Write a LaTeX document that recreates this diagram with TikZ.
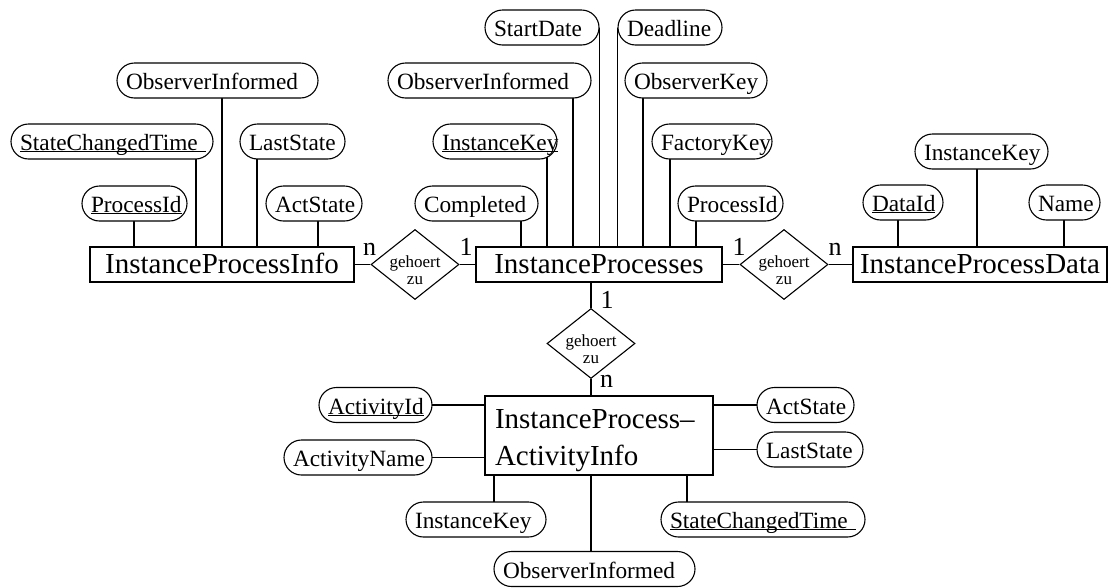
\documentclass[tikz,border=0pt]{standalone}
\usepackage{fontspec}
\setmainfont{Liberation Serif}
\usetikzlibrary{shapes.geometric,backgrounds}
\hyphenpenalty=10000
\exhyphenpenalty=10000

% font sizes
\newcommand\attrfont{\fontsize{23.3}{28}\selectfont}
\newcommand\entfont{\fontsize{29}{37}\selectfont}
\newcommand\relfont{\fontsize{17}{17}\selectfont}
\newcommand\cardfont{\fontsize{26}{30}\selectfont}

% key attribute: underline sitting just below the baseline
\newcommand\keyattr[1]{\leavevmode\setbox0\hbox{#1}\rlap{\rule[-1.8pt]{\wd0}{1.1pt}}\box0}

% two-line relationship label, kept out of the diamond's size
\newcommand\reltext[1]{\raisebox{-12pt}[0pt][0pt]{\begin{tabular}{@{}c@{}}#1\end{tabular}}}

% vertical connector from an attribute (offset dx from its centre) to an entity
\newcommand\attrdown[3]{\path (#1.center) ++(#2,0) coordinate (attrtmp);
  \draw (attrtmp) -- (attrtmp |- #3.north);}
\newcommand\attrup[3]{\path (#1.center) ++(#2,0) coordinate (attrtmp);
  \draw (attrtmp) -- (attrtmp |- #3.south);}

\tikzset{
  every path/.style={line width=1.1pt},
  attr/.style={draw, fill=white, rounded corners=17.5pt, minimum height=35pt,
    inner xsep=9pt, inner ysep=0pt, text height=18pt, text depth=0pt,
    font=\attrfont, text width=#1, align=left},
  entity/.style={draw, fill=white, rectangle, minimum height=35pt,
    minimum width=#1, inner sep=0pt, text height=17pt, text depth=0pt,
    font=\entfont},
  rel/.style={draw, fill=white, diamond, shape aspect=1.257,
    minimum width=88pt, minimum height=70pt, inner sep=0pt, font=\relfont},
  card/.style={inner sep=0pt, font=\cardfont},
}

\begin{document}
\begin{tikzpicture}[x=1pt, y=-1pt]
\useasboundingbox (0,0) rectangle (1112,587);

% ---------- entities ----------
\node[entity=264pt] (E1) at (222,264.5) {InstanceProcessInfo};
\node[entity=246pt] (E2) at (599,264.5) {InstanceProcesses};
\node[entity=254pt] (E3) at (980,264.5) {InstanceProcessData};
\node[draw, fill=white, rectangle, minimum width=228pt, minimum height=79pt,
      inner xsep=10pt, inner ysep=0pt, text width=208pt, align=left,
      text height=20pt, text depth=35pt, font=\entfont]
  (E4) at (599,435.5) {InstanceProcess–\\ActivityInfo};

% ---------- relationships ----------
\node[rel] (R1) at (415,264.5) {\reltext{gehoert\\zu}};
\node[rel] (R2) at (784,264.5) {\reltext{gehoert\\zu}};
\node[rel] (R3) at (591,343.5) {\reltext{gehoert\\zu}};

% ---------- cardinalities ----------
\node[card] (k1) at (369.5,249.5) {n};
\node[card] (k2) at (466,246.5) {1};
\node[card] (k3) at (739,246.5) {1};
\node[card] (k4) at (835,249.5) {n};
\node[card] (k5) at (607,299.5) {1};
\node[card] (k6) at (606.5,381) {n};

% ---------- attributes of InstanceProcessInfo ----------
\node[attr=183pt] (lOI)  at (217.5,80.5)  {ObserverInformed};
\node[attr=184pt] (lSCT) at (112,141.5)   {\keyattr{StateChangedTime\ }};
\node[attr=87pt]  (lLS)  at (292.5,141.5) {LastState};
\node[attr=87pt]  (lPI)  at (134.5,203.5) {\keyattr{ProcessId}};
\node[attr=78pt]  (lAS)  at (314,203.5)   {ActState};

% ---------- attributes of InstanceProcesses ----------
\node[attr=96pt]  (mSD) at (542,27.5)    {StartDate};
\node[attr=86pt]  (mDL) at (670,27.5)    {Deadline};
\node[attr=185pt] (mOI) at (489.5,80.5)  {ObserverInformed};
\node[attr=124pt] (mOK) at (696,80.5)    {ObserverKey};
\node[attr=106pt] (mIK) at (495,141.5)   {\keyattr{InstanceKey}};
\node[attr=102pt] (mFK) at (712,141.5)   {FactoryKey};
\node[attr=105pt] (mCO) at (476.5,203.5) {Completed};
\node[attr=87pt]  (mPI) at (730.5,203.5) {ProcessId};

% ---------- attributes of InstanceProcessData ----------
\node[attr=115pt] (rIK) at (981.5,151.5)  {InstanceKey};
\node[attr=62pt]  (rDI) at (903,202.5)    {\keyattr{DataId}};
\node[attr=53pt]  (rNA) at (1064.5,202.5) {Name};

% ---------- attributes of InstanceProcess-ActivityInfo ----------
\node[attr=95pt]  (bAI)  at (375.5,405)   {\keyattr{ActivityId}};
\node[attr=130pt] (bAN)  at (358,457.5)   {ActivityName};
\node[attr=79pt]  (bAS)  at (805.5,405)   {ActState};
\node[attr=88pt]  (bLS)  at (810,449.5)   {LastState};
\node[attr=122pt] (bIK)  at (476,519.5)   {InstanceKey};
\node[attr=186pt] (bSCT) at (763,519.5)   {\keyattr{StateChangedTime\ }};
\node[attr=183pt] (bOI)  at (594.5,569)   {ObserverInformed};

% ---------- connectors ----------
\begin{pgfonlayer}{background}
  % relationships
  \draw (E1.east) -- (R1.west);
  \draw (R1.east) -- (E2.west);
  \draw (E2.east) -- (R2.west);
  \draw (R2.east) -- (E3.west);
  \draw (R3.north) -- (R3.north |- E2.south);
  \draw (R3.south) -- (R3.south |- E4.north);

  % InstanceProcessInfo
  \attrdown{lOI}{4.5}{E1}
  \attrdown{lSCT}{84}{E1}
  \attrdown{lLS}{-35.5}{E1}
  \attrdown{lPI}{-0.5}{E1}
  \attrdown{lAS}{4}{E1}

  % InstanceProcesses
  \draw (mSD.east) -- (mSD.east |- E2.north);
  \draw (mDL.west) -- (mDL.west |- E2.north);
  \attrdown{mOI}{83.5}{E2}
  \attrdown{mOK}{-53}{E2}
  \attrdown{mIK}{52}{E2}
  \attrdown{mFK}{-42}{E2}
  \attrdown{mCO}{44.5}{E2}
  \attrdown{mPI}{-34.5}{E2}

  % InstanceProcessData
  \attrdown{rIK}{-4.5}{E3}
  \attrdown{rDI}{-5}{E3}
  \attrdown{rNA}{-0.5}{E3}

  % InstanceProcess-ActivityInfo
  \draw (bAI.center) -- (bAI.center -| E4.west);
  \draw (bAN.center) -- (bAN.center -| E4.west);
  \draw (bAS.center) -- (bAS.center -| E4.east);
  \draw (bLS.center) -- (bLS.center -| E4.east);
  \attrup{bIK}{18}{E4}
  \attrup{bSCT}{-76}{E4}
  \attrup{bOI}{-3.5}{E4}
\end{pgfonlayer}
\end{tikzpicture}
\end{document}
